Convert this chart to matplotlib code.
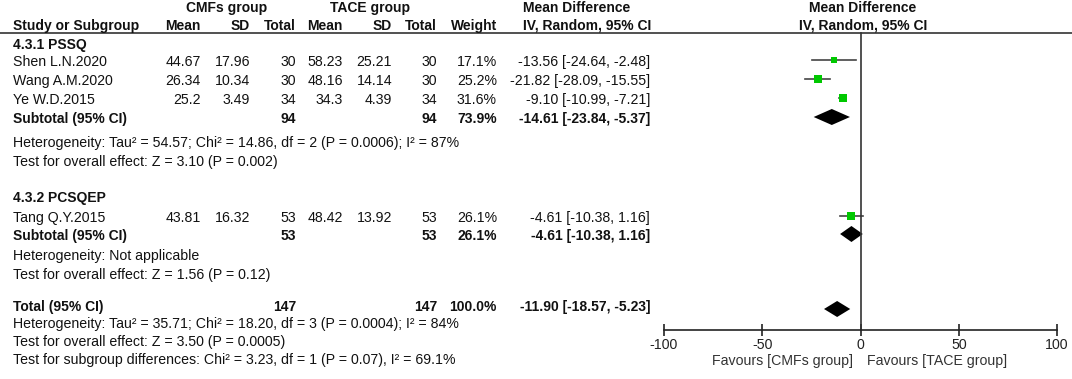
import matplotlib
matplotlib.use("Agg")
import matplotlib.pyplot as plt

plt.rcParams['font.family'] = ['Liberation Sans', 'DejaVu Sans']

# ---- data ----
groups = ["4.3.1 PSSQ", "4.3.2 PCSQEP"]
studies = ["Shen L.N.2020", "Wang A.M.2020", "Ye W.D.2015", "Tang Q.Y.2015"]
study_group = [0, 0, 0, 1]
cmf_mean = [44.67, 26.34, 25.2, 43.81]
cmf_sd = [17.96, 10.34, 3.49, 16.32]
cmf_n = [30, 30, 34, 53]
tace_mean = [58.23, 48.16, 34.3, 48.42]
tace_sd = [25.21, 14.14, 4.39, 13.92]
tace_n = [30, 30, 34, 53]
weight = [17.1, 25.2, 31.6, 26.1]
md = [-13.56, -21.82, -9.10, -4.61]
md_lo = [-24.64, -28.09, -10.99, -10.38]
md_hi = [-2.48, -15.55, -7.21, 1.16]

sub_cmf_n = [94, 53]
sub_tace_n = [94, 53]
sub_weight = [73.9, 26.1]
sub_md = [-14.61, -4.61]
sub_lo = [-23.84, -10.38]
sub_hi = [-5.37, 1.16]
sub_het = ["Heterogeneity: Tau² = 54.57; Chi² = 14.86, df = 2 (P = 0.0006); I² = 87%",
           "Heterogeneity: Not applicable"]
sub_test = ["Test for overall effect: Z = 3.10 (P = 0.002)",
            "Test for overall effect: Z = 1.56 (P = 0.12)"]

tot_cmf_n = 147
tot_tace_n = 147
tot_weight = 100.0
tot_md = -11.90
tot_lo = -18.57
tot_hi = -5.23
tot_notes = ["Heterogeneity: Tau² = 35.71; Chi² = 18.20, df = 3 (P = 0.0004); I² = 84%",
             "Test for overall effect: Z = 3.50 (P = 0.0005)",
             "Test for subgroup differences: Chi² = 3.23, df = 1 (P = 0.07), I² = 69.1%"]

ticks = [-100, -50, 0, 50, 100]
tick_labels = ["-100", "-50", "0", "50", "100"]
favours = ["Favours [CMFs group]", "Favours [TACE group]"]

# ---- layout (pixels) ----
W, H = 1072, 379
FS = 10.2
FSB = 10
X_NAME = 13
X_CM, X_CSD, X_CN = 201, 250, 296
X_TM, X_TSD, X_TN = 343, 392, 437
X_W, X_CI = 497, 650
GREEN = "#00c800"
LINE = "#444444"

fig = plt.figure(figsize=(W / 100, H / 100), dpi=100)
ax0 = fig.add_axes([0, 0, 1, 1])
ax0.set_xlim(0, W)
ax0.set_ylim(H, 0)
ax0.axis('off')

ax = fig.add_axes([664 / W, 0, (1057 - 664) / W, 1])
ax.set_xlim(-100, 100)
ax.set_ylim(H, 0)
ax.patch.set_alpha(0)


def txt(x, y, s, ha='left', bold=False):
    ax0.text(x, y, s, ha=ha, va='center', fontsize=FSB if bold else FS,
             fontweight='bold' if bold else 'normal', color='#111111')


def ci_str(m, lo, hi):
    return f"{m:.2f} [{lo:.2f}, {hi:.2f}]"


def diamond(y, m, lo, hi, h=8):
    ax.fill([lo, m, hi, m], [y, y - h, y, y + h], color='black', lw=0)


# header
txt(227, 8, "CMFs group", 'center', True)
txt(370, 8, "TACE group", 'center', True)
txt(577, 8, "Mean Difference", 'center', True)
txt(863, 8, "Mean Difference", 'center', True)
txt(X_NAME, 26, "Study or Subgroup", bold=True)
for x, s in [(X_CM, "Mean"), (X_CSD, "SD"), (X_CN, "Total"), (X_TM, "Mean"),
             (X_TSD, "SD"), (X_TN, "Total"), (X_W, "Weight")]:
    txt(x, 26, s, 'right', True)
txt(587, 26, "IV, Random, 95% CI", 'center', True)
txt(863, 26, "IV, Random, 95% CI", 'center', True)
ax0.plot([0, W], [33, 33], color='#333333', lw=1.2)

group_rows = [
    dict(label=45, studies=[62, 81, 100], sub=119, het=143, test=162),
    dict(label=198, studies=[218], sub=236, het=256, test=275),
]

for g, rows in enumerate(group_rows):
    txt(X_NAME, rows['label'], groups[g], bold=True)
    idx = [i for i, sg in enumerate(study_group) if sg == g]
    for i, y in zip(idx, rows['studies']):
        txt(X_NAME, y, studies[i])
        txt(X_CM, y, str(cmf_mean[i]), 'right')
        txt(X_CSD, y, str(cmf_sd[i]), 'right')
        txt(X_CN, y, str(cmf_n[i]), 'right')
        txt(X_TM, y, str(tace_mean[i]), 'right')
        txt(X_TSD, y, str(tace_sd[i]), 'right')
        txt(X_TN, y, str(tace_n[i]), 'right')
        txt(X_W, y, f"{weight[i]:.1f}%", 'right')
        txt(X_CI, y, ci_str(md[i], md_lo[i], md_hi[i]), 'right')
        my = y - 2
        ax.plot([md_lo[i], md_hi[i]], [my, my], color=LINE, lw=1.2)
        ax.plot(md[i], my, marker='s', ls='none', color=GREEN,
                markersize=1.42 * weight[i] ** 0.5 * 0.72, mew=0)
    y = rows['sub']
    txt(X_NAME, y, "Subtotal (95% CI)", bold=True)
    txt(X_CN, y, str(sub_cmf_n[g]), 'right', True)
    txt(X_TN, y, str(sub_tace_n[g]), 'right', True)
    txt(X_W, y, f"{sub_weight[g]:.1f}%", 'right', True)
    txt(X_CI, y, ci_str(sub_md[g], sub_lo[g], sub_hi[g]), 'right', True)
    diamond(y - 2, sub_md[g], sub_lo[g], sub_hi[g])
    txt(X_NAME, rows['het'], sub_het[g])
    txt(X_NAME, rows['test'], sub_test[g])

# total
y = 307
txt(X_NAME, y, "Total (95% CI)", bold=True)
txt(X_CN, y, str(tot_cmf_n), 'right', True)
txt(X_TN, y, str(tot_tace_n), 'right', True)
txt(X_W, y, f"{tot_weight:.1f}%", 'right', True)
txt(X_CI, y, ci_str(tot_md, tot_lo, tot_hi), 'right', True)
diamond(y + 2, tot_md, tot_lo, tot_hi)
for yy, s in zip([324, 342, 360], tot_notes):
    txt(X_NAME, yy, s)

# forest axis
ax.plot([0, 0], [33, 330], color='#333333', lw=1.2)
for side in ['top', 'left', 'right']:
    ax.spines[side].set_visible(False)
ax.spines['bottom'].set_position(('data', 330))
ax.spines['bottom'].set_color('#222222')
ax.spines['bottom'].set_linewidth(1.2)
ax.set_yticks([])
ax.set_xticks(ticks)
ax.set_xticklabels(tick_labels, fontsize=FS, color='#222222')
ax.tick_params(axis='x', direction='inout', length=8, width=1.2, pad=2,
               color='#222222')
ax0.text(853, 361, favours[0], ha='right', va='center', fontsize=FS, color='#333333')
ax0.text(867, 361, favours[1], ha='left', va='center', fontsize=FS, color='#333333')

fig.savefig("out.png", dpi=100)
